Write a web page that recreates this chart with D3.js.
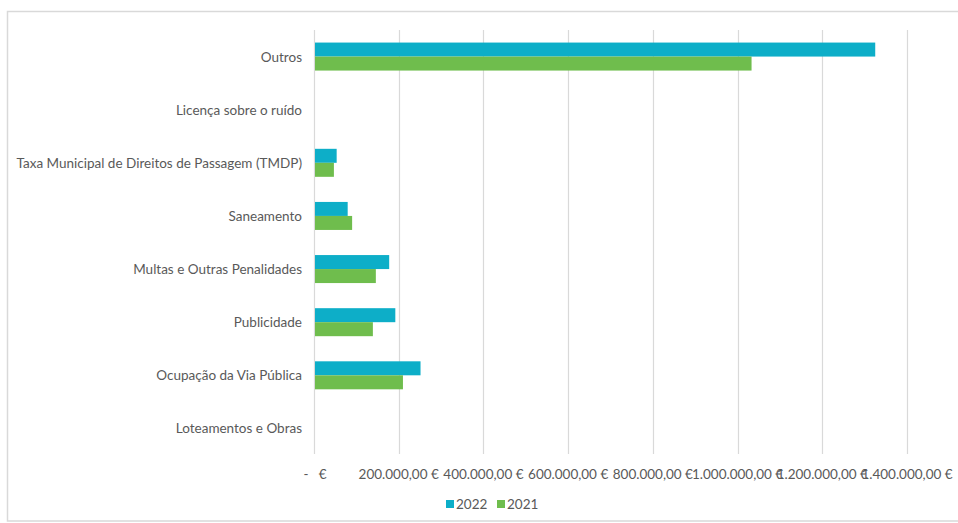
<!DOCTYPE html>
<html>
<head>
<meta charset="utf-8">
<script src="https://cdn.jsdelivr.net/npm/d3@7"></script>
<style>
  html, body { margin: 0; padding: 0; background: #fff; }
  svg text { font-family: Lato, "Open Sans", sans-serif; fill: #595959; }
</style>
</head>
<body>
<svg id="chart" width="958" height="523"></svg>
<script>
// Categories, top to bottom
const categories = [
  "Outros",
  "Licença sobre o ruído",
  "Taxa Municipal de Direitos de Passagem (TMDP)",
  "Saneamento",
  "Multas e Outras Penalidades",
  "Publicidade",
  "Ocupação da Via Pública",
  "Loteamentos e Obras"
];
const seriesNames = ["2022", "2021"];
const values2022 = [1325000, 0, 53500, 79500, 177500, 192000, 251500, 0];
const values2021 = [1033000, 0, 47000, 90000, 146000, 139000, 210000, 0];
const tickValues = [0, 200000, 400000, 600000, 800000, 1000000, 1200000, 1400000];
const tickLabels = ["-   €", "200.000,00 €", "400.000,00 €", "600.000,00 €", "800.000,00 €",
                    "1.000.000,00 €", "1.200.000,00 €", "1.400.000,00 €"];
const colors = { "2022": "#0daec8", "2021": "#6fbd4d" };

const svg = d3.select("#chart");

// outer frame
svg.append("rect")
  .attr("x", 7.5).attr("y", 11.5).attr("width", 965).attr("height", 509.5)
  .attr("fill", "none").attr("stroke", "#d9d9d9").attr("stroke-width", 1.5);

const x = d3.scaleLinear().domain([0, 1400000]).range([314, 907]);
const y = d3.scaleBand().domain(categories).range([30, 455]).paddingInner(0.473).paddingOuter(0.2365);
const ySub = d3.scaleBand().domain(seriesNames).range([0, y.bandwidth()]);

// gridlines
svg.append("g").selectAll("line").data(tickValues).join("line")
  .attr("x1", d => Math.round(x(d)) + 0.5).attr("x2", d => Math.round(x(d)) + 0.5)
  .attr("y1", 30).attr("y2", 454)
  .attr("stroke", "#d9d9d9").attr("stroke-width", 1.2);

// tick labels
svg.append("g").selectAll("text").data(tickValues).join("text")
  .attr("x", (d, i) => i === 0 ? x(d) + 1 : x(d))
  .attr("y", 479)
  .attr("text-anchor", "middle")
  .attr("font-size", 13.5)
  .text((d, i) => tickLabels[i])
  .style("white-space", "pre")
  .attr("xml:space", "preserve");

// category labels
svg.append("g").selectAll("text").data(categories).join("text")
  .attr("x", 302)
  .attr("y", d => y(d) + y.bandwidth() / 2 + 5)
  .attr("text-anchor", "end")
  .attr("font-size", 13.5)
  .text(d => d);

// bars
const rows = categories.map((c, i) => ({ cat: c, vals: [values2022[i], values2021[i]] }));
const g = svg.append("g");
rows.forEach(r => {
  seriesNames.forEach((s, j) => {
    if (r.vals[j] <= 0) return;
    g.append("rect")
      .attr("x", x(0) + 1)
      .attr("y", y(r.cat) + ySub(s))
      .attr("width", x(r.vals[j]) - x(0) - 1)
      .attr("height", ySub.bandwidth())
      .attr("fill", colors[s]);
  });
});

// legend
const legend = svg.append("g");
const legendX = [446, 497];
seriesNames.forEach((s, i) => {
  legend.append("rect")
    .attr("x", legendX[i]).attr("y", 500)
    .attr("width", 8).attr("height", 8)
    .attr("fill", colors[s]);
  legend.append("text")
    .attr("x", legendX[i] + 10).attr("y", 508.5)
    .attr("font-size", 13.5)
    .text(s);
});
</script>
</body>
</html>
